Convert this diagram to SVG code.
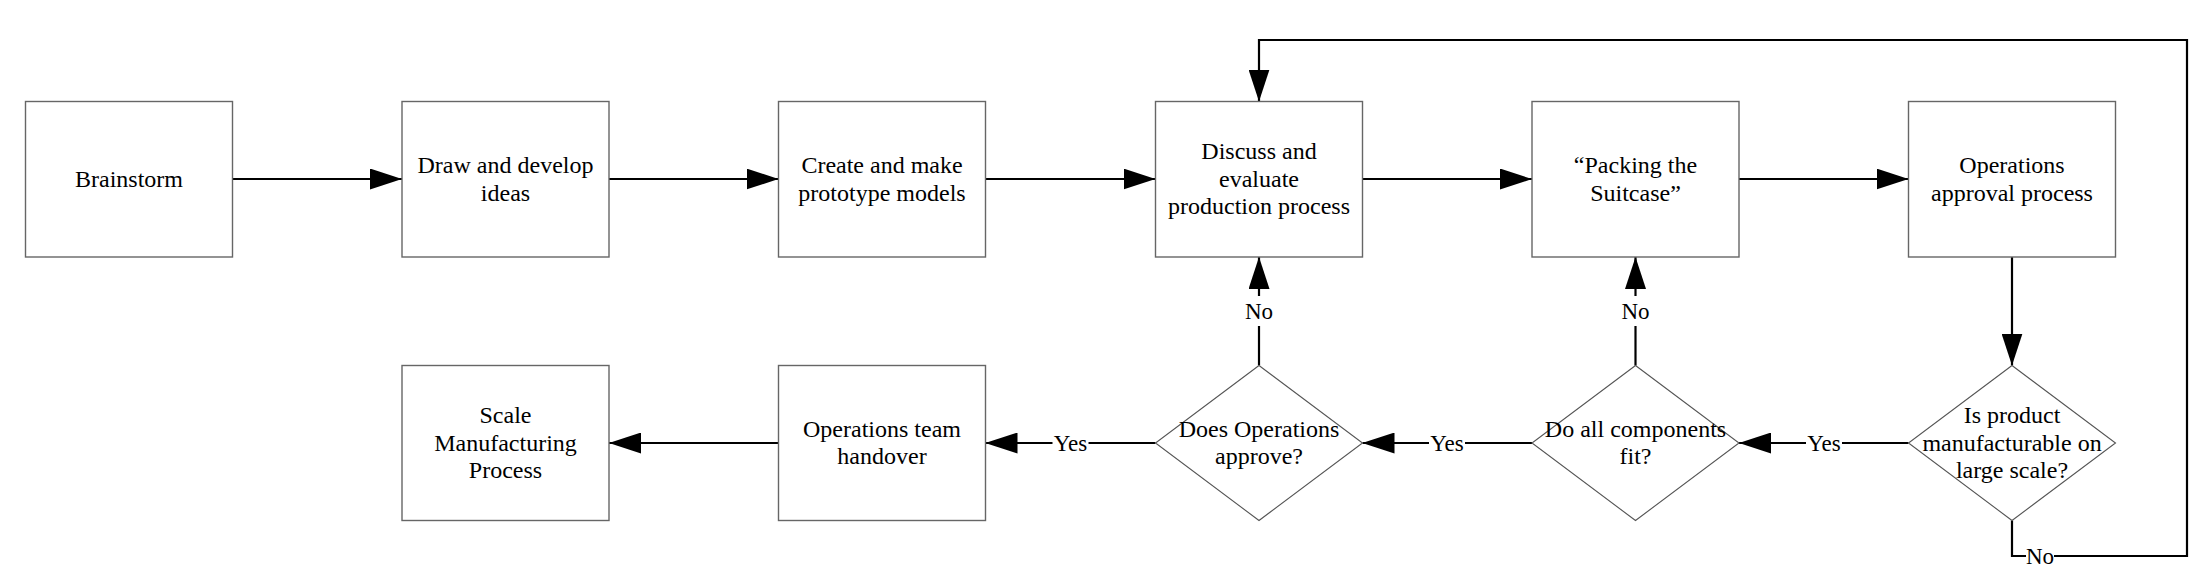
<svg xmlns="http://www.w3.org/2000/svg" width="2207" height="588" viewBox="0 0 2207 588">
<style>
  .box { fill: #ffffff; stroke: #666666; stroke-width: 1.4; }
  .dia { fill: #ffffff; stroke: #555555; stroke-width: 1.1; }
  .t { font-family: "Liberation Serif", "Times New Roman", serif; font-size: 24px; fill: #000000; text-anchor: middle; }
  .lbl { font-family: "Liberation Serif", "Times New Roman", serif; font-size: 23px; fill: #000000; text-anchor: middle; }
  .c { fill: none; stroke: #000000; stroke-width: 2.2; }
  .bg { fill: #ffffff; stroke: none; }
</style>
<defs>
  <marker id="ah" viewBox="0 0 32 21" markerWidth="32" markerHeight="21" refX="32" refY="10.5" orient="auto" markerUnits="userSpaceOnUse">
    <path d="M0,0 L32,10.5 L0,21 Z" fill="#000000"/>
  </marker>
</defs>
<rect width="2207" height="588" fill="#ffffff"/>

<g id="connectors">
  <line class="c" x1="232.5" y1="179" x2="402" y2="179" marker-end="url(#ah)"/>
  <line class="c" x1="609" y1="179" x2="778.5" y2="179" marker-end="url(#ah)"/>
  <line class="c" x1="985.5" y1="179" x2="1155.5" y2="179" marker-end="url(#ah)"/>
  <line class="c" x1="1362.5" y1="179" x2="1532" y2="179" marker-end="url(#ah)"/>
  <line class="c" x1="1739" y1="179" x2="1908.5" y2="179" marker-end="url(#ah)"/>
  <line class="c" x1="2012" y1="257" x2="2012" y2="365.5" marker-end="url(#ah)"/>
  <line class="c" x1="1908.5" y1="443" x2="1739" y2="443" marker-end="url(#ah)"/>
  <line class="c" x1="1635.5" y1="365.5" x2="1635.5" y2="257" marker-end="url(#ah)"/>
  <line class="c" x1="1532" y1="443" x2="1362.5" y2="443" marker-end="url(#ah)"/>
  <line class="c" x1="1259" y1="365.5" x2="1259" y2="257" marker-end="url(#ah)"/>
  <line class="c" x1="1155.5" y1="443" x2="985.5" y2="443" marker-end="url(#ah)"/>
  <line class="c" x1="778.5" y1="443" x2="609" y2="443" marker-end="url(#ah)"/>
  <polyline class="c" points="2012,520.5 2012,556 2187,556 2187,40 1259,40 1259,101.5" marker-end="url(#ah)"/>
  <g id="labels">
    <rect class="bg" x="1806" y="430" width="36" height="26"/>
    <text class="lbl" x="1824" y="451">Yes</text>
    <rect class="bg" x="1429" y="430" width="36" height="26"/>
    <text class="lbl" x="1447" y="451">Yes</text>
    <rect class="bg" x="1052.5" y="430" width="36" height="26"/>
    <text class="lbl" x="1070.5" y="451">Yes</text>
    <rect class="bg" x="1620" y="296" width="31" height="30"/>
    <text class="lbl" x="1635.5" y="318.5">No</text>
    <rect class="bg" x="1243.5" y="296" width="31" height="30"/>
    <text class="lbl" x="1259" y="318.5">No</text>
    <rect class="bg" x="2026" y="543" width="28" height="26"/>
    <text class="lbl" x="2040" y="564">No</text>
  </g>
</g>

<g id="n-brainstorm">
  <rect class="box" x="25.5" y="101.5" width="207" height="155.5"/>
  <text class="t" x="129" y="186.75">Brainstorm</text>
</g>
<g id="n-draw">
  <rect class="box" x="402" y="101.5" width="207" height="155.5"/>
  <text class="t" x="505.5" y="173">Draw and develop</text>
  <text class="t" x="505.5" y="200.5">ideas</text>
</g>
<g id="n-create">
  <rect class="box" x="778.5" y="101.5" width="207" height="155.5"/>
  <text class="t" x="882" y="173">Create and make</text>
  <text class="t" x="882" y="200.5">prototype models</text>
</g>
<g id="n-discuss">
  <rect class="box" x="1155.5" y="101.5" width="207" height="155.5"/>
  <text class="t" x="1259" y="159.25">Discuss and</text>
  <text class="t" x="1259" y="186.75">evaluate</text>
  <text class="t" x="1259" y="214.25">production process</text>
</g>
<g id="n-packing">
  <rect class="box" x="1532" y="101.5" width="207" height="155.5"/>
  <text class="t" x="1635.5" y="173">“Packing the</text>
  <text class="t" x="1635.5" y="200.5">Suitcase”</text>
</g>
<g id="n-opsapproval">
  <rect class="box" x="1908.5" y="101.5" width="207" height="155.5"/>
  <text class="t" x="2012" y="173">Operations</text>
  <text class="t" x="2012" y="200.5">approval process</text>
</g>
<g id="n-manufacturable">
  <polygon class="dia" points="2012,365.5 2115.5,443 2012,520.5 1908.5,443"/>
  <text class="t" x="2012" y="423">Is product</text>
  <text class="t" x="2012" y="450.5">manufacturable on</text>
  <text class="t" x="2012" y="478">large scale?</text>
</g>
<g id="n-fit">
  <polygon class="dia" points="1635.5,365.5 1739,443 1635.5,520.5 1532,443"/>
  <text class="t" x="1635.5" y="436.75">Do all components</text>
  <text class="t" x="1635.5" y="464.25">fit?</text>
</g>
<g id="n-opsapprove">
  <polygon class="dia" points="1259,365.5 1362.5,443 1259,520.5 1155.5,443"/>
  <text class="t" x="1259" y="436.75">Does Operations</text>
  <text class="t" x="1259" y="464.25">approve?</text>
</g>
<g id="n-handover">
  <rect class="box" x="778.5" y="365.5" width="207" height="155"/>
  <text class="t" x="882" y="436.75">Operations team</text>
  <text class="t" x="882" y="464.25">handover</text>
</g>
<g id="n-scale">
  <rect class="box" x="402" y="365.5" width="207" height="155"/>
  <text class="t" x="505.5" y="423">Scale</text>
  <text class="t" x="505.5" y="450.5">Manufacturing</text>
  <text class="t" x="505.5" y="478">Process</text>
</g>
</svg>
